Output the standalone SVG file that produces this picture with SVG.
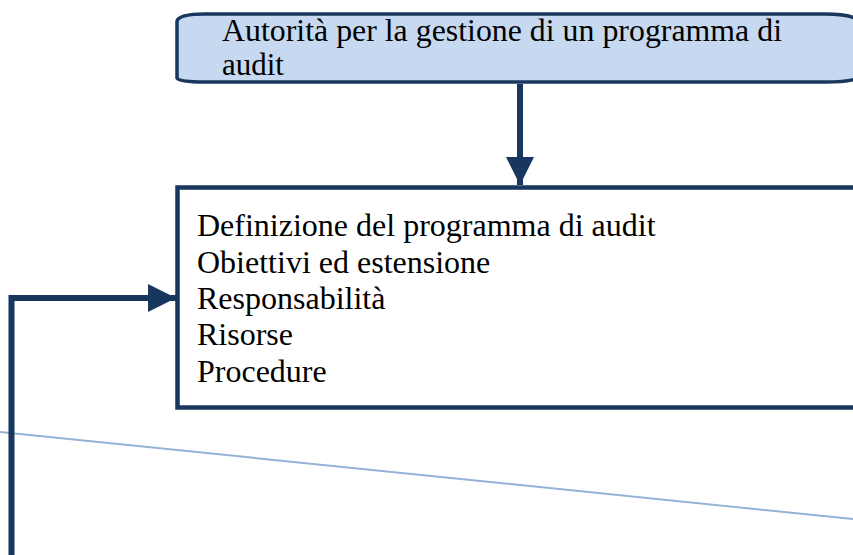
<svg xmlns="http://www.w3.org/2000/svg" width="853" height="555" viewBox="0 0 853 555">
<style>
.t{font-family:"Liberation Serif","Times New Roman",serif;font-size:32px;fill:#000}
.t2{font-size:31px}
.c{stroke:#17375e;fill:none}
</style>
<defs>
<marker id="ah" markerUnits="userSpaceOnUse" markerWidth="28" markerHeight="28" viewBox="0 0 28 28" refX="28" refY="14" orient="auto">
<path d="M0,0 L28,14 L0,28 Z" fill="#17375e"/>
</marker>
</defs>
<rect width="853" height="555" fill="#fff"/>
<line x1="0" y1="432" x2="853" y2="519" stroke="#95b3d7" stroke-width="2"/>
<g id="node-autorita">
<path d="M177,21 Q179,14 205,14 L825,14 Q850,14 858,20 L858,78 Q850,82 825,82 L205,82 Q179,82 177,78 Z" fill="#c6d9f1" stroke="#17375e" stroke-width="3.5"/>
<text class="t t2" x="222" y="41" textLength="560" lengthAdjust="spacingAndGlyphs">Autorità per la gestione di un programma di</text>
<text class="t t2" x="222" y="75">audit</text>
</g>
<g id="node-definizione">
<rect x="177.5" y="187.5" width="690" height="220" fill="#fff" stroke="#17375e" stroke-width="4.5"/>
<text class="t" x="197" y="236">Definizione del programma di audit</text>
<text class="t" x="197" y="273">Obiettivi ed estensione</text>
<text class="t" x="197" y="309">Responsabilità</text>
<text class="t" x="197" y="345">Risorse</text>
<text class="t" x="197" y="382">Procedure</text>
</g>
<g id="connectors">
<line class="c" x1="520" y1="84" x2="520" y2="185" stroke-width="6" marker-end="url(#ah)"/>
<polyline class="c" points="11.5,555 11.5,298 176,298" stroke-width="6" marker-end="url(#ah)"/>
</g>
</svg>
